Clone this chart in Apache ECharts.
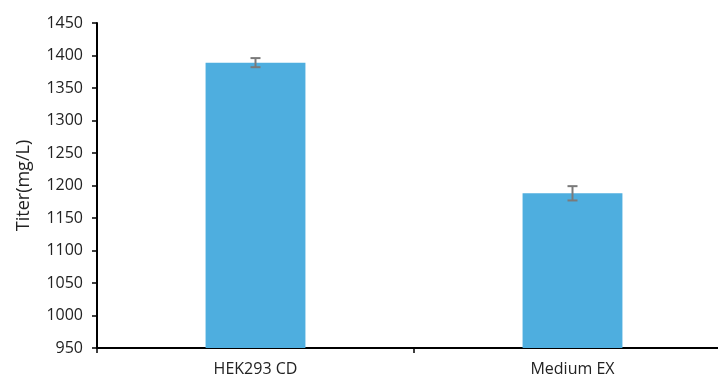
<!DOCTYPE html>
<html>
<head>
<meta charset="utf-8">
<script src="https://cdn.jsdelivr.net/npm/echarts@6/dist/echarts.min.js"></script>
<style>
  html, body { margin: 0; padding: 0; background: #fff; overflow: hidden; }
  /* the plot area runs a little past the right edge of the window */
  #chart { width: 731px; height: 381px; }
</style>
</head>
<body>
<div id="chart"></div>
<script>
// Titer per medium, with standard deviation
const categories = ['HEK293 CD', 'Medium EX'];
const titer = [1389, 1188];
const titerSd = [7, 11];
const yTicks = [950, 1000, 1050, 1100, 1150, 1200, 1250, 1300, 1350, 1400, 1450];

const FONT = 'Open Sans';
const chart = echarts.init(document.getElementById('chart'));

const errorData = categories.map((c, i) => [i, titer[i] - titerSd[i], titer[i] + titerSd[i]]);

chart.setOption({
  animation: false,
  grid: { left: 97, top: 23, right: 0, bottom: 33, containLabel: false },
  xAxis: {
    type: 'category',
    data: categories,
    axisLine: { lineStyle: { color: '#000', width: 2 } },
    axisTick: { show: true, length: 5, lineStyle: { color: '#000', width: 1.5 } },
    axisLabel: { color: '#222', fontFamily: FONT, fontSize: 16, margin: 13 }
  },
  yAxis: {
    type: 'value',
    min: yTicks[0],
    max: yTicks[yTicks.length - 1],
    interval: 50,
    name: 'Titer(mg/L)',
    nameLocation: 'middle',
    nameGap: 64,
    nameTextStyle: { color: '#222', fontFamily: FONT, fontSize: 18 },
    splitLine: { show: false },
    axisLine: { show: true, lineStyle: { color: '#000', width: 2 } },
    axisTick: { show: true, length: 5, lineStyle: { color: '#000', width: 1.5 } },
    axisLabel: {
      color: '#222', fontFamily: FONT, fontSize: 16, margin: 14,
      formatter: v => String(v)
    }
  },
  series: [
    {
      type: 'bar',
      data: titer,
      barWidth: '31.5%',
      itemStyle: { color: '#4EAEDF' }
    },
    {
      type: 'custom',
      data: errorData,
      z: 10,
      renderItem: function (params, api) {
        const x = api.coord([api.value(0), api.value(1)])[0];
        const lo = api.coord([api.value(0), api.value(1)])[1];
        const hi = api.coord([api.value(0), api.value(2)])[1];
        const half = 5;
        const style = { stroke: '#7a7a7a', lineWidth: 2 };
        return {
          type: 'group',
          children: [
            { type: 'line', shape: { x1: x, y1: hi, x2: x, y2: lo }, style },
            { type: 'line', shape: { x1: x - half, y1: hi, x2: x + half, y2: hi }, style },
            { type: 'line', shape: { x1: x - half, y1: lo, x2: x + half, y2: lo }, style }
          ]
        };
      }
    }
  ]
});
</script>
</body>
</html>
